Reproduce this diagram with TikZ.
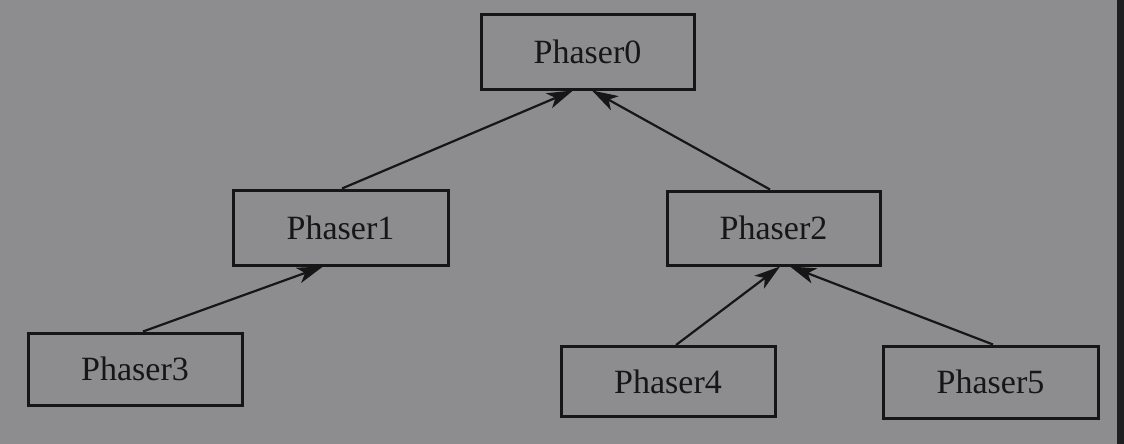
\documentclass[tikz,border=0pt]{standalone}
\usepackage{fontspec}
\setmainfont{Liberation Serif}
\usetikzlibrary{arrows.meta}
\definecolor{bg}{RGB}{141,141,143}
\definecolor{stripe}{RGB}{30,31,33}
\definecolor{ink}{RGB}{22,22,22}
\begin{document}
\begin{tikzpicture}[x=1pt,y=-1pt,
  pbox/.style={draw=ink,line width=3pt,minimum width=#1,inner sep=0pt,
    font=\fontsize{34}{40}\selectfont,text=ink},
  conn/.style={draw=ink,line width=2.2pt,-{Stealth[length=26pt,width=16pt,inset=7pt]}}]
\fill[bg] (0,0) rectangle (1124,444);
\fill[stripe] (1117,0) rectangle (1124,444);
\useasboundingbox (0,0) rectangle (1124,444);
\node[pbox=213pt,minimum height=74pt] (p0) at (587.5,52) {Phaser0};
\node[pbox=215pt,minimum height=75pt] (p1) at (340.5,227.5) {Phaser1};
\node[pbox=213pt,minimum height=74pt] (p2) at (773.5,228) {Phaser2};
\node[pbox=214pt,minimum height=72pt] (p3) at (135,369) {Phaser3};
\node[pbox=214pt,minimum height=70pt] (p4) at (668,381.5) {Phaser4};
\node[pbox=215pt,minimum height=72pt] (p5) at (990.5,382) {Phaser5};
\draw[conn] ([xshift=1.5pt]p1.north) -- ([xshift=-14.5pt]p0.south);
\draw[conn] ([xshift=-3.5pt]p2.north) -- ([xshift=4.5pt]p0.south);
\draw[conn] ([xshift=8pt]p3.north) -- ([xshift=-17.5pt]p1.south);
\draw[conn] ([xshift=8pt]p4.north) -- ([xshift=6.5pt]p2.south);
\draw[conn] ([xshift=2.5pt]p5.north) -- ([xshift=16.5pt]p2.south);
\end{tikzpicture}
\end{document}
